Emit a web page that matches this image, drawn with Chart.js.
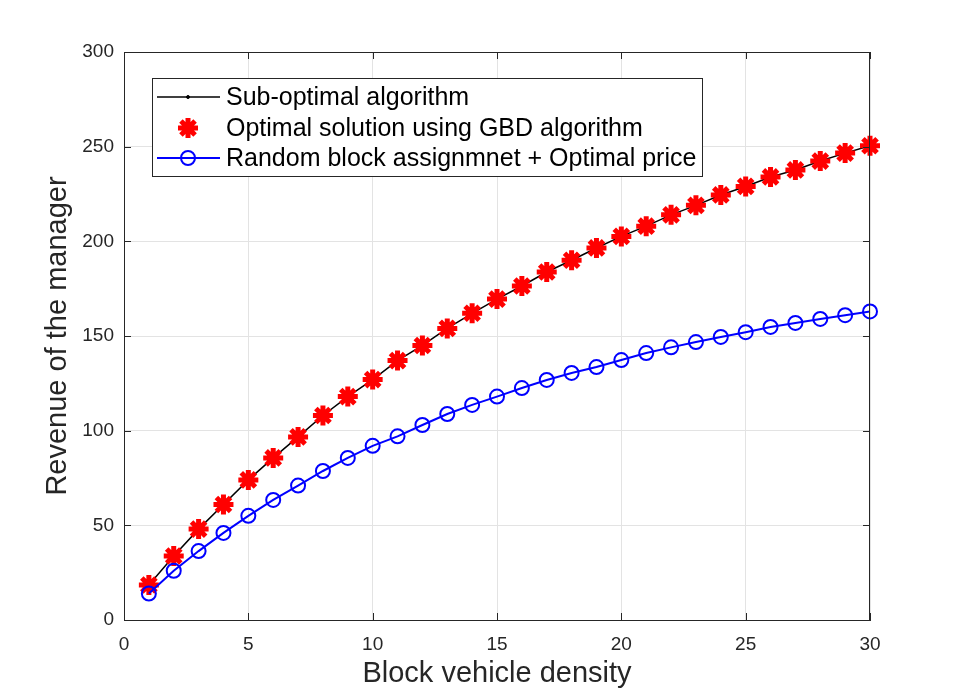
<!DOCTYPE html>
<html>
<head>
<meta charset="utf-8">
<script src="https://cdn.jsdelivr.net/npm/chart.js@4.4.1/dist/chart.umd.min.js"></script>
<style>
  html, body { margin: 0; padding: 0; background: #fff; }
  #wrap { width: 961px; height: 696px; }
</style>
</head>
<body>
<div id="wrap"><canvas id="revChart" width="961" height="696"></canvas></div>
<script>
// block vehicle density 1..30
const densities = [1,2,3,4,5,6,7,8,9,10,11,12,13,14,15,16,17,18,19,20,21,22,23,24,25,26,27,28,29,30];
const subOptimal = [18.5,33.8,48,61,74,85.6,96.7,108,118,127,137,145,154,162,169.5,176.4,183.8,190,196.5,202.6,208,214,219,224.5,229,234,237.7,242.4,246.6,250.5];
const gbdOptimal = [18.5,33.8,48,61,74,85.6,96.7,108,118,127,137,145,154,162,169.5,176.4,183.8,190,196.5,202.6,208,214,219,224.5,229,234,237.7,242.4,246.6,250.5];
const randomAssign = [14,26,36.4,46,55,63.4,71,78.7,85.6,92,97,103,108.8,113.6,118,122.5,126.8,130.5,133.6,137.3,141,144,146.8,149.5,152,154.8,156.9,159,161,163];
const xTicks = [0,5,10,15,20,25,30];
const yTicks = [0,50,100,150,200,250,300];
const seriesNames = ["Sub-optimal algorithm", "Optimal solution using GBD algorithm", "Random block assignmnet + Optimal price"];

const axisColor = "#262626";
const fontFam = "'Liberation Sans', Arial, Helvetica, sans-serif";

function toPts(ys) {
    return densities.map((d, i) => ({x: d, y: ys[i]}));
}

// matlab style box + inward ticks + legend
const matlabBox = {
    id: "matlabBox",
    afterDatasetsDraw(chart) {
        const ctx = chart.ctx;
        const a = chart.chartArea;
        const xs = chart.scales.x, ys = chart.scales.y;
        const tl = 7;
        ctx.save();
        ctx.strokeStyle = axisColor;
        ctx.lineWidth = 1;
        ctx.strokeRect(a.left + 0.5, a.top + 0.5, a.right - a.left - 1, a.bottom - a.top);
        ctx.beginPath();
        for (let v of xTicks) {
            let px = Math.round(xs.getPixelForValue(v)) + 0.5;
            ctx.moveTo(px, a.bottom); ctx.lineTo(px, a.bottom - tl);
            ctx.moveTo(px, a.top); ctx.lineTo(px, a.top + tl);
        }
        for (let v of yTicks) {
            let py = Math.round(ys.getPixelForValue(v)) + 0.5;
            ctx.moveTo(a.left, py); ctx.lineTo(a.left + tl, py);
            ctx.moveTo(a.right, py); ctx.lineTo(a.right - tl, py);
        }
        ctx.stroke();

        // legend
        const lx = 152, ly = 78, lw = 550, lh = 98;
        ctx.fillStyle = "#fff";
        ctx.fillRect(lx, ly, lw, lh);
        ctx.strokeStyle = "#262626";
        ctx.strokeRect(lx + 0.5, ly + 0.5, lw, lh);
        const rows = [97, 128, 158];
        ctx.font = "25px " + fontFam;
        ctx.textBaseline = "middle";
        chart.data.datasets.forEach((ds, i) => {
            const y = rows[i];
            ctx.save();
            if (ds.showLine !== false) {
                ctx.strokeStyle = ds.borderColor;
                ctx.lineWidth = ds.borderWidth;
                ctx.beginPath();
                ctx.moveTo(157, y); ctx.lineTo(220, y);
                ctx.stroke();
            }
            ctx.fillStyle = ds.pointBackgroundColor;
            ctx.strokeStyle = ds.pointBorderColor;
            ctx.lineWidth = ds.pointBorderWidth;
            Chart.helpers.drawPoint(ctx, {
                pointStyle: ds.pointStyle,
                radius: ds.pointRadius,
                borderWidth: ds.pointBorderWidth
            }, 188, y);
            ctx.restore();
            ctx.fillStyle = "#000";
            ctx.fillText(ds.label, 226, y + 1);
        });
        ctx.restore();
    }
};

const ctx = document.getElementById("revChart").getContext("2d");
const revChart = new Chart(ctx, {
    type: "line",
    data: {
        datasets: [
            {
                label: seriesNames[0],
                data: toPts(subOptimal),
                borderColor: "#000",
                borderWidth: 1.5,
                pointStyle: "circle",
                pointRadius: 1.5,
                pointBorderWidth: 1,
                pointBackgroundColor: "#000",
                pointBorderColor: "#000",
                order: 3,
                clip: false
            },
            {
                label: seriesNames[1],
                data: toPts(gbdOptimal),
                showLine: false,
                borderColor: "#ff0000",
                pointStyle: "star",
                pointRadius: 10,
                pointBorderWidth: 5,
                pointBackgroundColor: "#ff0000",
                pointBorderColor: "#ff0000",
                order: 2,
                clip: false
            },
            {
                label: seriesNames[2],
                data: toPts(randomAssign),
                borderColor: "#0000ff",
                borderWidth: 2,
                pointStyle: "circle",
                pointRadius: 7,
                pointBorderWidth: 2,
                pointBackgroundColor: "rgba(255,255,255,0)",
                pointBorderColor: "#0000ff",
                order: 1,
                clip: false
            }
        ]
    },
    options: {
        responsive: false,
        animation: false,
        layout: { padding: { top: 52, right: 91, left: 0, bottom: 0 } },
        plugins: {
            legend: { display: false },
            tooltip: { enabled: false }
        },
        scales: {
            x: {
                type: "linear",
                min: 0, max: 30,
                afterFit: (s) => { s.height = 76; },
                afterBuildTicks: (s) => { s.ticks = xTicks.map(v => ({value: v})); },
                grid: { color: "#e3e3e3", drawTicks: false },
                border: { color: axisColor, width: 1 },
                ticks: { color: "#262626", padding: 13, maxRotation: 0, font: { family: fontFam, size: 19 } },
                title: {
                    display: true, text: "Block vehicle density", color: "#262626",
                    font: { family: fontFam, size: 29 }, padding: { top: 0, bottom: 5 }
                }
            },
            y: {
                type: "linear",
                min: 0, max: 300,
                afterFit: (s) => { s.width = 124; },
                afterBuildTicks: (s) => { s.ticks = yTicks.map(v => ({value: v})); },
                grid: { color: "#e3e3e3", drawTicks: false },
                border: { color: axisColor, width: 1 },
                ticks: { color: "#262626", padding: 10, font: { family: fontFam, size: 19 } },
                title: {
                    display: true, text: "Revenue of the manager", color: "#262626",
                    font: { family: fontFam, size: 29 }, padding: { top: 41, bottom: 0 }
                }
            }
        }
    },
    plugins: [matlabBox]
});
</script>
</body>
</html>
